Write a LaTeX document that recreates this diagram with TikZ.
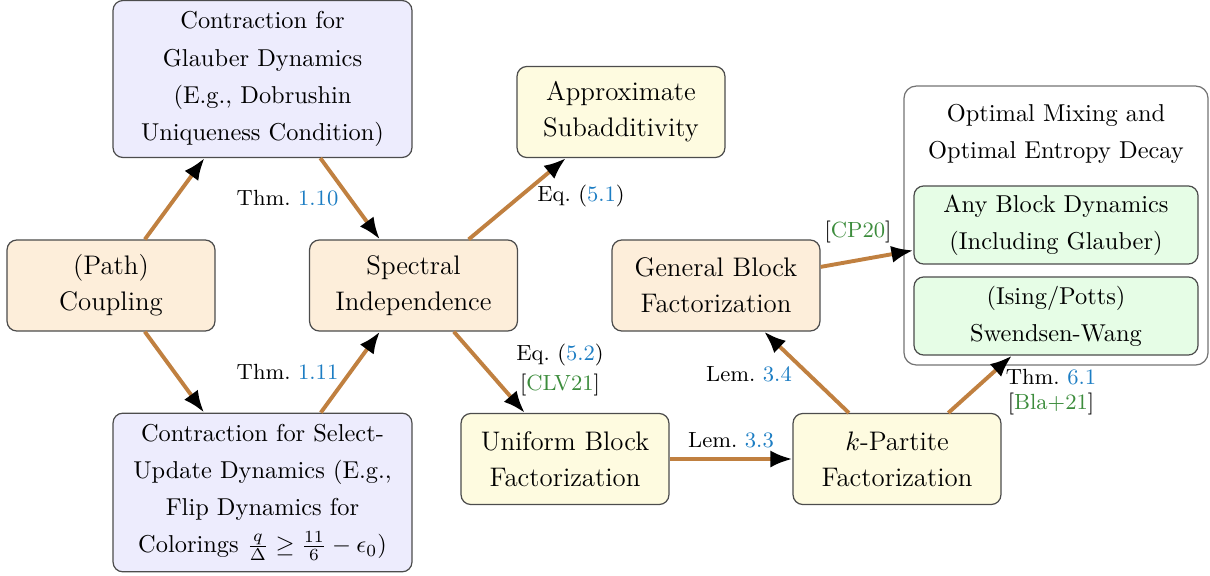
\documentclass[tikz,border=0pt]{standalone}
\usetikzlibrary{arrows.meta}
\definecolor{bluefill}{RGB}{237,236,253}
\definecolor{orangefill}{RGB}{253,238,218}
\definecolor{yellowfill}{RGB}{254,251,224}
\definecolor{greenfill}{RGB}{230,253,230}
\definecolor{refblue}{RGB}{28,125,195}
\definecolor{citegreen}{RGB}{60,140,60}
\definecolor{arrowbrown}{RGB}{192,128,64}
\newcommand{\rb}[1]{\textcolor{refblue}{#1}}
\newcommand{\cg}[1]{\textcolor{citegreen}{#1}}
\begin{document}
\begin{tikzpicture}[x=0.4098pt,y=-0.4098pt,
  box/.style={draw=black!70, line width=0.5pt, rounded corners=4pt, align=center, inner sep=0pt},
  mainbox/.style={box, minimum width=85.2pt, minimum height=37.3pt, font=\fontsize{11}{14.75}\selectfont},
  obox/.style={mainbox, fill=orangefill},
  ybox/.style={mainbox, fill=yellowfill},
  bbox/.style={box, fill=bluefill, minimum width=122.5pt, font=\fontsize{10}{15.2}\selectfont},
  gbox/.style={box, fill=greenfill, minimum width=116.4pt, minimum height=32pt, font=\fontsize{10}{15.2}\selectfont},
  lbl/.style={align=center, inner sep=0pt, font=\fontsize{9}{11.5}\selectfont},
  arr/.style={draw=arrowbrown, line width=1.6pt, -{Latex[length=9pt,width=7pt,color=black]}}
]
\useasboundingbox (0,0) rectangle (1210,575);

% nodes
\node[obox] (path) at (111,285.5) {(Path)\\Coupling};
\node[bbox, minimum height=64.3pt] (glauber) at (262.5,79) {Contraction for\\Glauber Dynamics\\(E.g., Dobrushin\\Uniqueness Condition)};
\node[bbox, minimum height=65pt] (select) at (262.5,492.5) {Contraction for Select-\\Update Dynamics (E.g.,\\Flip Dynamics for\\Colorings $\frac{q}{\Delta}\geq\frac{11}{6}-\epsilon_0$)};
\node[obox] (spec) at (413.5,285.5) {Spectral\\Independence};
\node[ybox] (approx) at (621,112) {Approximate\\Subadditivity};
\node[ybox] (unif) at (565,459) {Uniform Block\\Factorization};
\node[obox] (gen) at (716,285.5) {General Block\\Factorization};
\node[ybox] (kpart) at (897,459) {$k$-Partite\\Factorization};
\node[box, draw=black!55, rounded corners=5pt, minimum width=124.6pt, minimum height=114.3pt] (opt) at (1056,225.5) {};
\node[align=center, inner sep=0pt, font=\fontsize{10}{15.2}\selectfont] (opttitle) at (1056,133.5) {Optimal Mixing and\\Optimal Entropy Decay};
\node[gbox] (anyblock) at (1056,225) {Any Block Dynamics\\(Including Glauber)};
\node[gbox] (sw) at (1056,316) {(Ising/Potts)\\Swendsen-Wang};

% connectors
\draw[arr] (path) -- (glauber);
\draw[arr] (path) -- (select);
\draw[arr] (glauber) -- (spec);
\draw[arr] (select) -- (spec);
\draw[arr] (spec) -- (approx);
\draw[arr] (spec) -- (unif);
\draw[arr] (unif) -- (kpart);
\draw[arr] (kpart) -- (gen);
\draw[arr] (gen) -- (anyblock);
\draw[arr] (kpart) -- (sw);

% labels
\node[lbl] (l1) at (287.5,198) {Thm.~\rb{1.10}};
\node[lbl] (l2) at (287.5,372) {Thm.~\rb{1.11}};
\node[lbl] (l3) at (581,196) {Eq.~(\rb{5.1})};
\node[lbl] (l4) at (560,370) {Eq.~(\rb{5.2})\\[1.2pt][\cg{CLV21}]};
\node[lbl] (l5) at (731,440) {Lem.~\rb{3.3}};
\node[lbl] (l6) at (749,374) {Lem.~\rb{3.4}};
\node[lbl] (l7) at (858,232) {[\cg{CP20}]};
\node[lbl] (l8) at (1051,392) {Thm.~\rb{6.1}\\[-1.5pt][\cg{Bla+21}]};
\end{tikzpicture}
\end{document}
